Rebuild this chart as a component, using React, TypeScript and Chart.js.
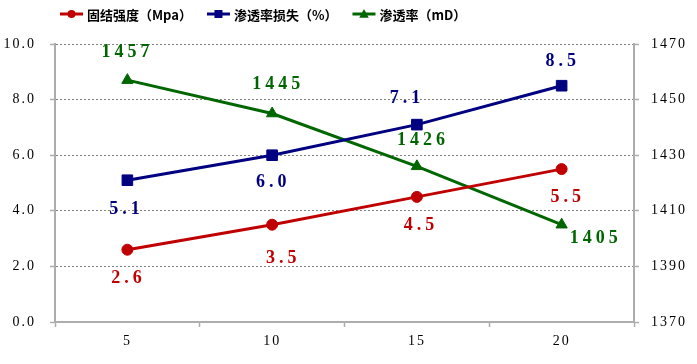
import React, { useEffect, useRef } from "react";
import { Chart, registerables } from "chart.js";

Chart.register(...registerables);

const categories = ["5", "10", "15", "20"];
const strength = [2.6, 3.5, 4.5, 5.5];
const permLoss = [5.1, 6.0, 7.1, 8.5];
const permeability = [1457, 1445, 1426, 1405];

const seriesNames = ["固结强度（Mpa）", "渗透率损失（%）", "渗透率（mD）"];

const RED = "#C00000";
const BLUE = "#000080";
const GREEN = "#006600";

// label placement relative to the point (style only)
const strengthLabelOffsets = [[1, 29], [11, 34], [4, 28], [6, 28]];
const lossLabelOffsets = [[-1, 29], [1, 27], [-10, -26], [1, -24]];
const permLabelOffsets = [[0, -28], [6, -29], [6, -26], [34, 14]];

const labelPlugin = {
  id: "valueLabels",
  afterDatasetsDraw(chart: any) {
    const ctx = chart.ctx;
    ctx.save();
    ctx.font = 'bold 18px "Liberation Serif"';
    (ctx as any).letterSpacing = "4px";
    ctx.textAlign = "center";
    ctx.textBaseline = "middle";
    chart.data.datasets.forEach((ds: any, i: number) => {
      const meta = chart.getDatasetMeta(i);
      meta.data.forEach((el: any, j: number) => {
        const v = ds.data[j];
        const txt = ds.labelDigits ? v.toFixed(ds.labelDigits) : String(v);
        const off = ds.labelOffsets[j];
        ctx.fillStyle = ds.borderColor;
        ctx.fillText(txt, el.x + off[0], el.y + off[1]);
      });
    });
    ctx.restore();
  },
};

function drawMarker(ctx: CanvasRenderingContext2D, style: string, x: number, y: number, r: number) {
  ctx.beginPath();
  if (style === "circle") {
    ctx.arc(x, y, r, 0, Math.PI * 2);
  } else if (style === "rect") {
    ctx.rect(x - r, y - r, 2 * r, 2 * r);
  } else {
    ctx.moveTo(x, y - r);
    ctx.lineTo(x + r * 0.95, y + r * 0.75);
    ctx.lineTo(x - r * 0.95, y + r * 0.75);
    ctx.closePath();
  }
  ctx.fill();
}

const legendPlugin = {
  id: "lineLegend",
  afterDraw(chart: any, _args: any, opts: any) {
    const ctx = chart.ctx;
    ctx.save();
    ctx.font = 'bold 13px "Noto Sans CJK SC"';
    (ctx as any).letterSpacing = "0px";
    ctx.textBaseline = "middle";
    ctx.textAlign = "left";
    let x = opts.x;
    const y = opts.y;
    chart.data.datasets.forEach((ds: any) => {
      ctx.strokeStyle = ds.borderColor;
      ctx.fillStyle = ds.borderColor;
      ctx.lineWidth = 3;
      ctx.beginPath();
      ctx.moveTo(x, y);
      ctx.lineTo(x + 23, y);
      ctx.stroke();
      drawMarker(ctx, ds.pointStyle, x + 11.5, y, ds.pointStyle === "triangle" ? 5 : 4);
      ctx.fillStyle = "#000";
      ctx.fillText(ds.label, x + 27, y + 1);
      x += 27 + ctx.measureText(ds.label).width + 15;
    });
    ctx.restore();
  },
};

const spacingPlugin = {
  id: "tickSpacing",
  beforeDraw(chart: any) {
    (chart.ctx as any).letterSpacing = "2px";
  },
};

export default function App() {
  const ref = useRef<HTMLCanvasElement>(null);
  useEffect(() => {
    document.body.style.margin = "0";
    const tickFont = { family: '"Liberation Serif"', size: 14 };
    const axisColor = "#ADADAD";
    const chart = new Chart(ref.current!, {
      type: "line",
      data: {
        labels: categories,
        datasets: [
          {
            label: seriesNames[0],
            data: strength,
            borderColor: RED,
            backgroundColor: RED,
            borderWidth: 3,
            pointStyle: "circle",
            pointRadius: 5.5,
            pointBorderWidth: 1,
            yAxisID: "y",
            labelOffsets: strengthLabelOffsets,
            labelDigits: 1,
          } as any,
          {
            label: seriesNames[1],
            data: permLoss,
            borderColor: BLUE,
            backgroundColor: BLUE,
            borderWidth: 3,
            pointStyle: "rect",
            pointRadius: 7.5,
            pointBorderWidth: 1,
            yAxisID: "y",
            labelOffsets: lossLabelOffsets,
            labelDigits: 1,
          } as any,
          {
            label: seriesNames[2],
            data: permeability,
            borderColor: GREEN,
            backgroundColor: GREEN,
            borderWidth: 3,
            pointStyle: "triangle",
            pointRadius: 6.5,
            pointBorderWidth: 1,
            yAxisID: "y1",
            labelOffsets: permLabelOffsets,
            labelDigits: 0,
          } as any,
        ],
      },
      options: {
        animation: false,
        responsive: true,
        maintainAspectRatio: false,
        layout: { padding: { top: 44, left: 0, right: 0, bottom: 0 } },
        plugins: {
          legend: { display: false },
          tooltip: { enabled: false },
          lineLegend: { x: 60, y: 14 },
        } as any,
        scales: {
          x: {
            type: "category",
            offset: true,
            grid: {
              offset: true,
              drawOnChartArea: false,
              drawTicks: true,
              tickLength: 5,
              tickColor: axisColor,
              tickWidth: 1.5,
            },
            border: { color: axisColor, width: 2 },
            ticks: { font: tickFont, color: "#000", padding: 6 },
            afterFit: (s: any) => {
              s.height = 42;
            },
          },
          y: {
            position: "left",
            min: 0,
            max: 10,
            ticks: {
              stepSize: 2,
              font: tickFont,
              color: "#000",
              padding: 14,
              callback: (v: any) => Number(v).toFixed(1),
            },
            grid: {
              color: "#808080",
              lineWidth: 1,
              tickLength: 5,
              tickColor: axisColor,
              tickWidth: 1.5,
              tickBorderDash: [],
            },
            border: { color: axisColor, width: 2, dash: [2, 2] },
            afterFit: (s: any) => {
              s.width = 55;
            },
          },
          y1: {
            position: "right",
            min: 1370,
            max: 1470,
            ticks: {
              stepSize: 20,
              font: tickFont,
              color: "#000",
              padding: 12,
              callback: (v: any) => String(v),
            },
            grid: {
              drawOnChartArea: false,
              tickLength: 5,
              tickColor: axisColor,
              tickWidth: 1.5,
            },
            border: { color: axisColor, width: 2 },
            afterFit: (s: any) => {
              s.width = 63;
            },
          },
        },
      } as any,
      plugins: [spacingPlugin, labelPlugin, legendPlugin],
    });
    return () => chart.destroy();
  }, []);
  return (
    <div style={{ width: 697, height: 364, position: "relative" }}>
      <canvas ref={ref} />
    </div>
  );
}
